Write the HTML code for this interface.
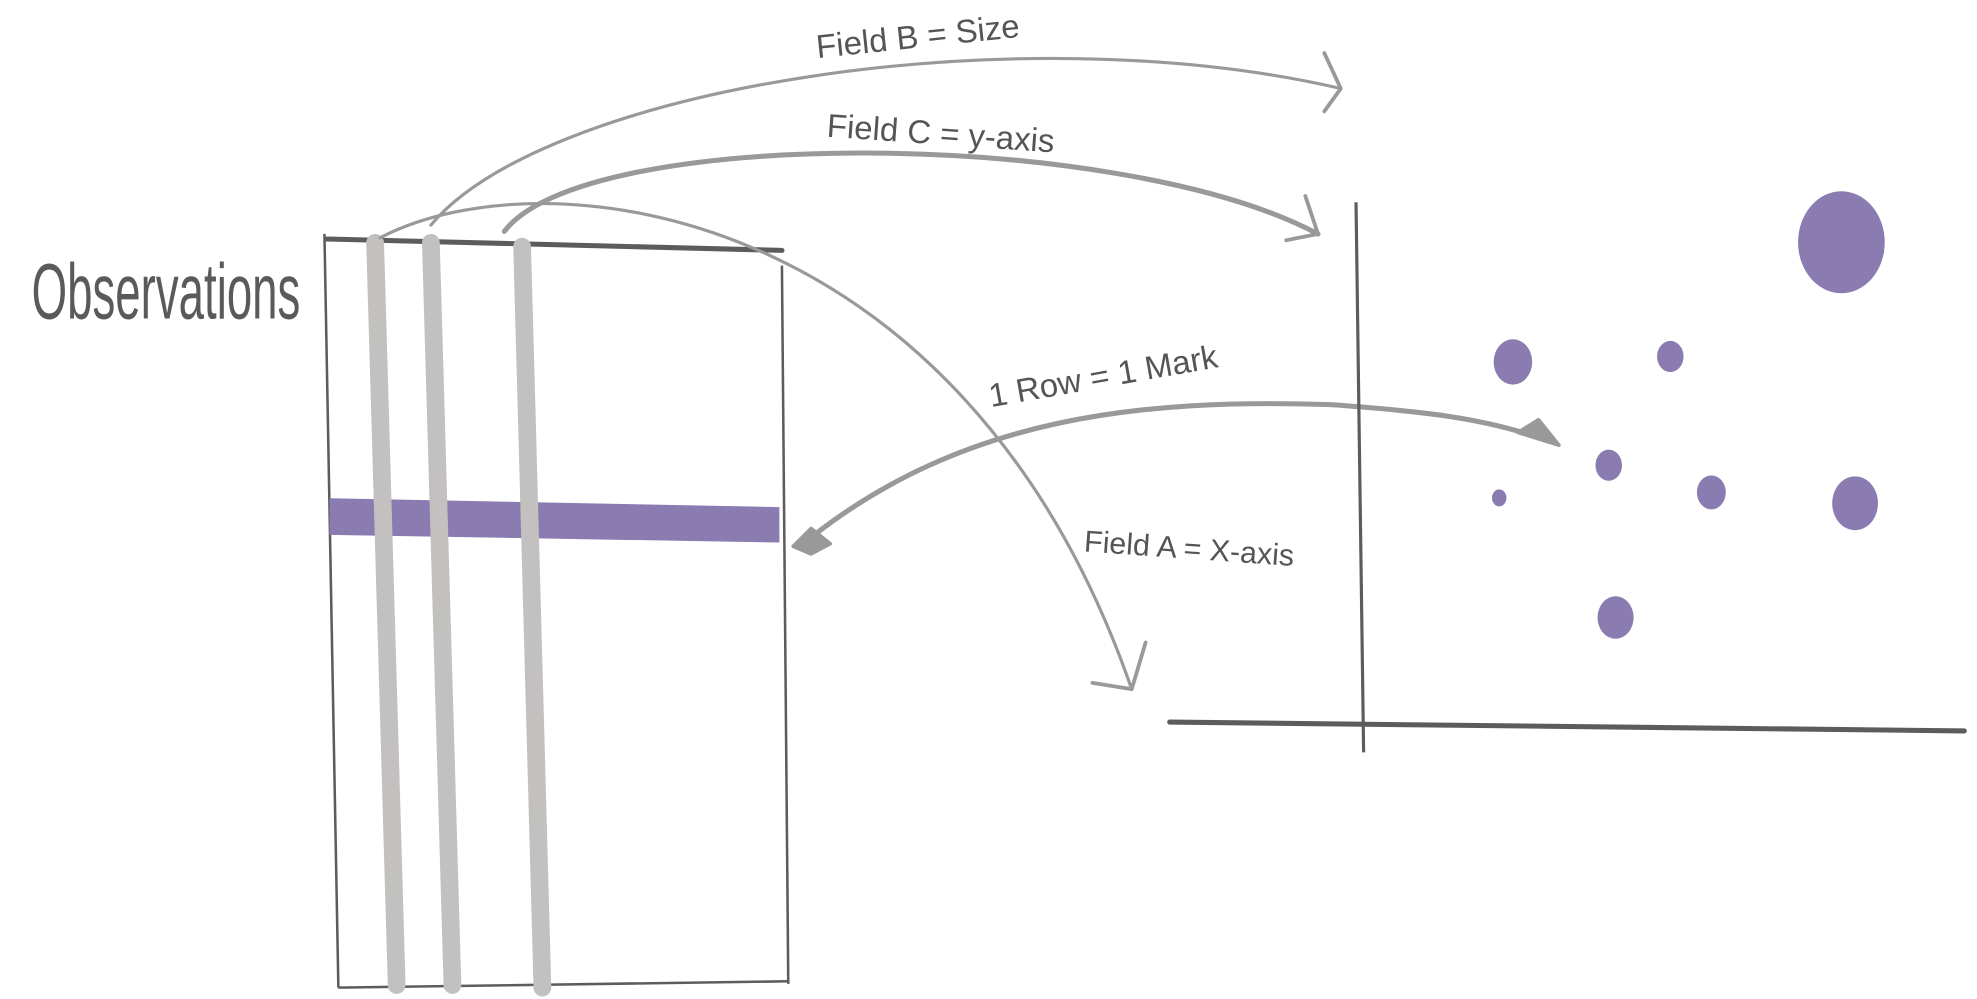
<!DOCTYPE html>
<html><head><meta charset="utf-8"><style>
html,body{margin:0;padding:0;background:#fff;}
svg{display:block;}
text{font-family:"Liberation Sans Narrow","Liberation Sans",sans-serif;fill:#555;}
</style></head><body>
<svg id="sketch" width="1977" height="999" viewBox="0 0 1560 790" preserveAspectRatio="none" xmlns="http://www.w3.org/2000/svg">
<rect width="1560" height="790" fill="#fff"/>
<g>
  <text x="25" y="252" font-size="62" textLength="212" lengthAdjust="spacingAndGlyphs" style="fill:#5a5a5a">Observations</text>
  <line x1="258" y1="189" x2="617" y2="198" stroke="#5c5c5c" stroke-width="4" stroke-linecap="round"/>
  <line x1="256" y1="185" x2="267" y2="781" stroke="#5c5c5c" stroke-width="2"/>
  <line x1="617" y1="210" x2="622" y2="778" stroke="#5c5c5c" stroke-width="2"/>
  <line x1="267" y1="781" x2="623" y2="776" stroke="#5c5c5c" stroke-width="2"/>
  <polygon points="260,394 615,401 615,429 260,423" fill="#8a7bb1"/>
  <line x1="296" y1="192" x2="313" y2="779" stroke="#c3c0c0" stroke-width="14" stroke-linecap="round"/>
  <line x1="340" y1="192" x2="357" y2="779" stroke="#c3c0c0" stroke-width="14" stroke-linecap="round"/>
  <line x1="412" y1="195" x2="428" y2="781" stroke="#c3c0c0" stroke-width="14" stroke-linecap="round"/>
</g>
<g fill="none" stroke="#999" stroke-linecap="round" stroke-linejoin="round">
  <path d="M340,178 C430,70 800,10 1058,70" stroke-width="2.5"/>
  <path d="M1045,42 L1058,70 L1045,88" stroke-width="3"/>
  <path d="M398,183 C460,100 880,100 1040,185" stroke-width="4"/>
  <path d="M1030,155 L1040,185 L1015,190" stroke-width="3"/>
  <path d="M300,188 C430,120 760,160 893,545" stroke-width="2.5"/>
  <path d="M904,508 L893,545 L862,540" stroke-width="3"/>
  <path d="M640,425 C760,330 900,315 1050,320 C1120,325 1170,330 1220,348" stroke-width="4"/>
  <polygon points="1230,352 1198,342 1214,332" fill="#999" stroke-width="3"/>
  <polygon points="626,432 640,418 655,430 640,438" fill="#999" stroke-width="3"/>
</g>
<g>
  <text x="645" y="46" font-size="26" transform="rotate(-6 645 46)" style="fill:#555">Field  B = Size</text>
  <text x="652" y="108" font-size="26" transform="rotate(4 652 108)" style="fill:#555">Field C = y-axis</text>
  <text x="782" y="322" font-size="26" transform="rotate(-10 782 322)" style="fill:#555">1 Row = 1 Mark</text>
  <text x="855" y="436" font-size="24" transform="rotate(4 855 436)" style="fill:#555">Field A = X-axis</text>
</g>
<g>
  <line x1="1070" y1="160" x2="1076" y2="595" stroke="#5c5c5c" stroke-width="2.5"/>
  <line x1="923" y1="571" x2="1550" y2="578" stroke="#5c5c5c" stroke-width="4" stroke-linecap="round"/>
  <g id="dots"></g>
</g>
</svg>
<script>
const pointX = [70, 22, 45, 36, 20, 51, 72, 37];
const pointY = [88, 66, 67, 47, 41, 42, 40, 19];
const pointSize = [36, 16, 11, 11, 6, 12, 19, 15];
function xScale(v){ return 1075 + v * 5.4; }
function yScale(v){ return 570 - v * 4.3; }
const g = document.getElementById('dots');
for (let i = 0; i < pointX.length; i++) {
  const c = document.createElementNS('http://www.w3.org/2000/svg','ellipse');
  c.setAttribute('cx', xScale(pointX[i]));
  c.setAttribute('cy', yScale(pointY[i]));
  c.setAttribute('rx', pointSize[i] * 0.95);
  c.setAttribute('ry', pointSize[i] * 1.12);
  c.setAttribute('fill', '#8a7bb1');
  
  
  g.appendChild(c);
}
</script>
</body></html>
